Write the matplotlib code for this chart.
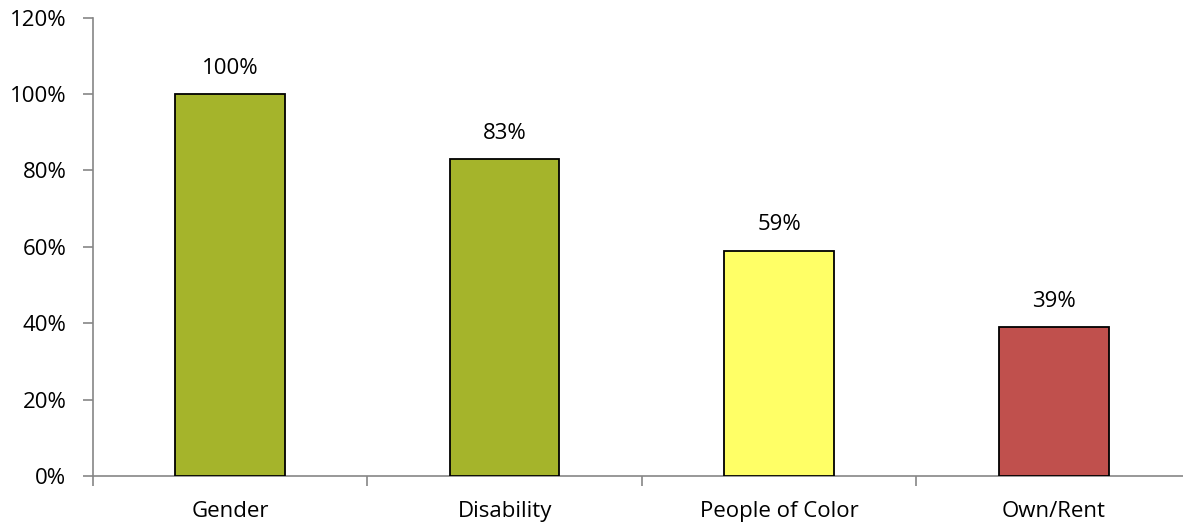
import numpy as np
import matplotlib.pyplot as plt
from matplotlib.ticker import PercentFormatter

categories = ['Gender', 'Disability', 'People of Color', 'Own/Rent']
values = [100, 83, 59, 39]
colors = ['#A5B42B', '#A5B42B', '#FFFF66', '#C0504D']

plt.rcParams['font.family'] = ['Open Sans', 'DejaVu Sans']

fig = plt.figure(figsize=(11.83, 5.24), dpi=100)
W, H = 1183, 524
left, right, top, bottom = 92.7, 1191, 17.6, 476
ax = fig.add_axes([left / W, 1 - bottom / H, (right - left) / W, (bottom - top) / H])

x = np.arange(len(categories))
ax.bar(x, values, width=0.4, color=colors, edgecolor='black', linewidth=1.3, zorder=3)
for xi, v in zip(x, values):
    ax.annotate(f'{v}%', (xi, v), xytext=(0, 11), textcoords='offset points',
                ha='center', va='bottom', fontsize=16)

ax.set_xlim(-0.5, len(categories) - 0.5)
ax.set_ylim(0, 120)
ax.set_yticks(range(0, 121, 20))
ax.yaxis.set_major_formatter(PercentFormatter(decimals=0))

# category labels between boundary ticks
ax.set_xticks(np.arange(-0.5, len(categories), 1))
ax.set_xticklabels([])
ax.set_xticks(x, minor=True)
ax.set_xticklabels(categories, minor=True)
ax.tick_params(axis='x', which='minor', length=0, pad=18, labelsize=16)
ax.tick_params(axis='x', which='major', length=7, color='#868686', width=1.2)
ax.tick_params(axis='y', length=7, color='#868686', width=1.2, pad=12, labelsize=16)

for s in ['top', 'right']:
    ax.spines[s].set_visible(False)
for s in ['left', 'bottom']:
    ax.spines[s].set_color('#868686')
    ax.spines[s].set_linewidth(1.2)

fig.savefig('out.png', dpi=100)
